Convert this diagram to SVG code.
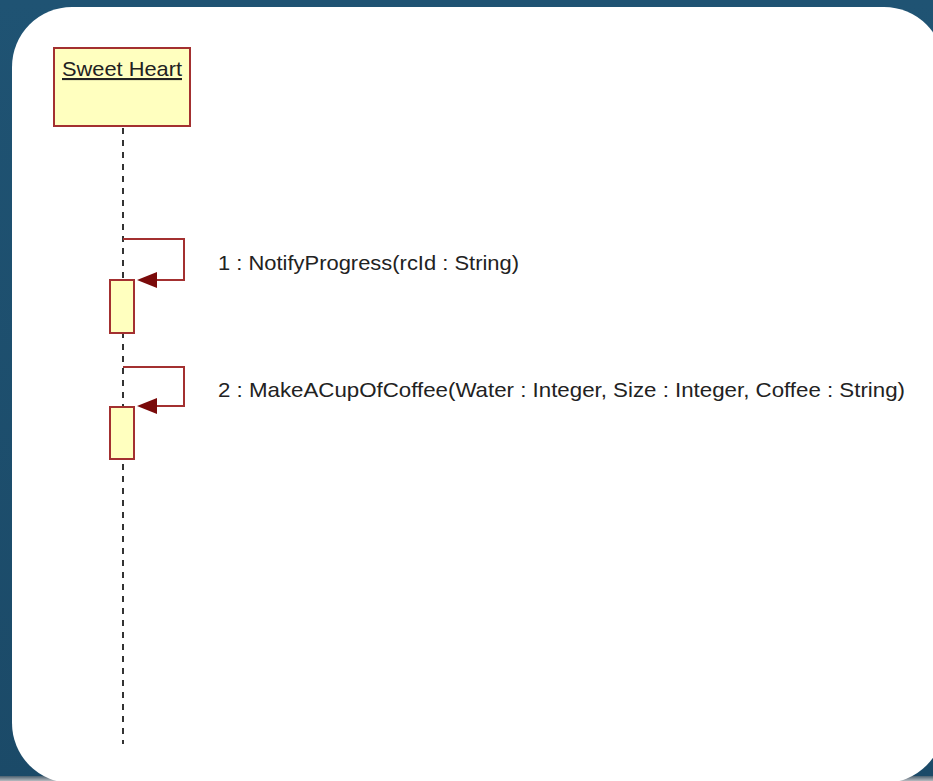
<svg xmlns="http://www.w3.org/2000/svg" width="933" height="781" viewBox="0 0 933 781">
<defs>
<style>
.box{fill:#ffffbf;stroke:#a33030;stroke-width:2}
.msg{fill:none;stroke:#a33030;stroke-width:2}
.life{stroke:#333;stroke-width:2;stroke-dasharray:6 6}
.lbl{font-family:"Liberation Sans",Arial,sans-serif;font-size:21px;fill:#222}
</style>
<linearGradient id="bg" x1="0" y1="0" x2="0" y2="1">
<stop offset="0" stop-color="#1f5373"/>
<stop offset="1" stop-color="#1b4a68"/>
</linearGradient>
<linearGradient id="shade" x1="0" y1="0" x2="0" y2="1">
<stop offset="0" stop-color="#4a6070"/>
<stop offset="1" stop-color="#b8bcc0"/>
</linearGradient>
<marker id="ah" markerWidth="22" markerHeight="18" refX="20" refY="8" orient="auto" markerUnits="userSpaceOnUse">
<path d="M20,8 L0,0 L0,16 Z" fill="#7a0a0a"/>
</marker>
</defs>
<rect x="0" y="0" width="933" height="781" fill="url(#bg)"/>
<rect x="0" y="776" width="933" height="5" fill="url(#shade)"/>
<rect x="12" y="7" width="932" height="776" rx="60" ry="60" fill="#ffffff"/>
<g id="connectors">
<line class="life" x1="123" y1="128" x2="123" y2="744"/>
<polyline class="msg" points="123,239 184,239 184,280 157,280"/>
<path d="M137,280 L157,272 L157,288 Z" fill="#7a0a0a"/>
<polyline class="msg" points="123,367 184,367 184,406 157,406"/>
<path d="M137,406 L157,398 L157,414 Z" fill="#7a0a0a"/>
</g>
<g id="sweet-heart">
<rect class="box" x="54" y="48" width="136" height="78"/>
<text class="lbl" x="62" y="76" textLength="120" lengthAdjust="spacingAndGlyphs" text-decoration="underline">Sweet Heart</text>
</g>
<g id="activation-1">
<rect class="box" x="110" y="280" width="24" height="53"/>
</g>
<g id="activation-2">
<rect class="box" x="110" y="407" width="24" height="52"/>
</g>
<g id="label-1">
<text class="lbl" x="218" y="270" textLength="301" lengthAdjust="spacingAndGlyphs">1 : NotifyProgress(rcId : String)</text>
</g>
<g id="label-2">
<text class="lbl" x="218" y="397" textLength="687" lengthAdjust="spacingAndGlyphs">2 : MakeACupOfCoffee(Water : Integer, Size : Integer, Coffee : String)</text>
</g>
</svg>
